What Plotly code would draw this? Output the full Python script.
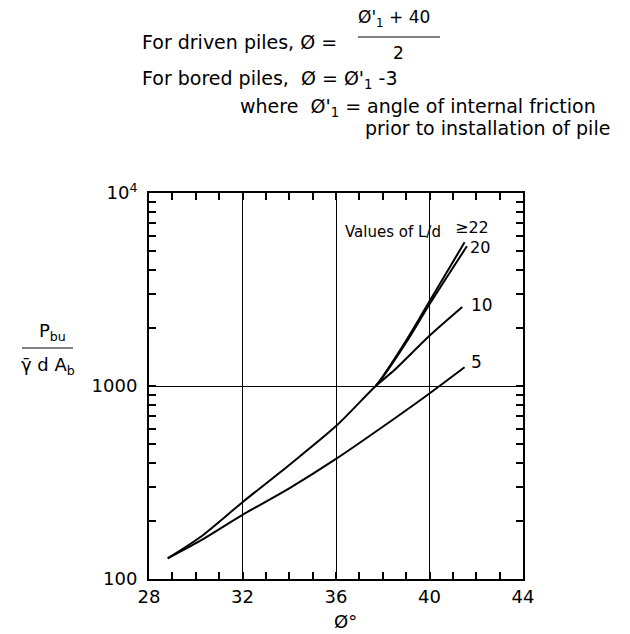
import plotly.graph_objects as go

# ---- data ----
phi_5 = [28.8, 30.2, 32.0, 34.0, 36.0, 38.0, 40.0, 41.5]
p_5 = [128, 158, 215, 295, 419, 615, 915, 1250]

phi_10 = [28.8, 30.2, 32.0, 34.0, 36.0, 37.7, 38.5, 40.0, 41.4]
p_10 = [128, 165, 250, 390, 620, 1000, 1210, 1820, 2565]

phi_20 = [37.7, 38.0, 39.0, 40.0, 41.6]
p_20 = [1000, 1110, 1680, 2650, 5300]

phi_22 = [37.7, 38.0, 39.0, 40.0, 41.5]
p_22 = [1000, 1120, 1720, 2750, 5550]

x_ticks = [28, 32, 36, 40, 44]
y_ticks = [100, 1000, 10000]
y_ticktext = ["100", "1000", "10<sup>4</sup>"]

curve_labels = ["5", "10", "20", "≥22"]

FONT = "DejaVu Sans"

fig = go.Figure()
for xs, ys in [(phi_5, p_5), (phi_10, p_10), (phi_20, p_20), (phi_22, p_22)]:
    fig.add_trace(go.Scatter(x=xs, y=ys, mode="lines",
                             line=dict(color="black", width=2, shape="spline", smoothing=0.8),
                             showlegend=False, hoverinfo="skip"))

# plot area in pixels: x 149..523, y 193..579
L, R, T, B = 149, 523, 193, 579
W, H = 630, 634

def px(x):
    return (x - L) / (R - L)

def py(y):
    return (B - y) / (B - T)

fig.update_layout(
    width=W, height=H,
    margin=dict(l=L, r=W - R, t=T, b=H - B),
    plot_bgcolor="white", paper_bgcolor="white",
    font=dict(family=FONT, size=16, color="black"),
    xaxis=dict(range=[28, 44], tickvals=x_ticks, ticks="inside", ticklen=7,
               tickwidth=1.5, tickcolor="black",
               showline=True, linewidth=2, linecolor="black", mirror="ticks",
               showgrid=True, gridcolor="black", gridwidth=1, zeroline=False,
               minor=dict(dtick=1, ticks="inside", ticklen=7, tickwidth=1.5,
                          tickcolor="black", showgrid=False),
               tickfont=dict(size=18)),
    yaxis=dict(type="log", range=[2, 4], tickvals=y_ticks, ticktext=y_ticktext,
               ticks="inside", ticklen=7, tickwidth=1.5, tickcolor="black",
               showline=True, linewidth=2, linecolor="black", mirror="ticks",
               showgrid=True, gridcolor="black", gridwidth=1, zeroline=False,
               ticklabelstandoff=6,
               minor=dict(dtick="D1", ticks="inside", ticklen=7, tickwidth=1.5,
                          tickcolor="black", showgrid=False),
               tickfont=dict(size=18)),
)

ann = []
def text(x, y, s, size=16, xanchor="center"):
    ann.append(dict(x=px(x), y=py(y), xref="paper", yref="paper", text=s,
                    showarrow=False, xanchor=xanchor, yanchor="middle",
                    font=dict(family=FONT, size=size, color="black")))

# header
text(140, 42, "For driven piles, Ø =", size=19, xanchor="left")
text(394, 19, "Ø'<sub>1</sub> + 40", size=17)
text(398, 53, "2", size=17)
text(140, 79, "For bored piles,  Ø = Ø'<sub>1</sub> -3", size=19, xanchor="left")
text(238, 107, "where  Ø'<sub>1</sub> = angle of internal friction", size=19, xanchor="left")
text(363, 128, "prior to installation of pile", size=19, xanchor="left")

# y title
text(53, 332, "P<sub>bu</sub>", size=18)
text(48, 366, "γ̄ d A<sub>b</sub>", size=18)

# x title
text(345, 621, "Ø°", size=18)

# curve labels
text(343, 232, "Values of L/d", size=15, xanchor="left")
text(453, 227, curve_labels[3], size=16, xanchor="left")
text(468, 248, curve_labels[2], size=16, xanchor="left")
text(469, 305, curve_labels[1], size=17, xanchor="left")
text(469, 362, curve_labels[0], size=17, xanchor="left")

fig.update_layout(annotations=ann)

shapes = [
    dict(type="line", xref="paper", yref="paper", x0=px(358), x1=px(440), y0=py(37), y1=py(37),
         line=dict(color="black", width=1)),
    dict(type="line", xref="paper", yref="paper", x0=px(22), x1=px(73), y0=py(348), y1=py(348),
         line=dict(color="black", width=1)),
]
fig.update_layout(shapes=shapes)

fig.write_html("out.html")
